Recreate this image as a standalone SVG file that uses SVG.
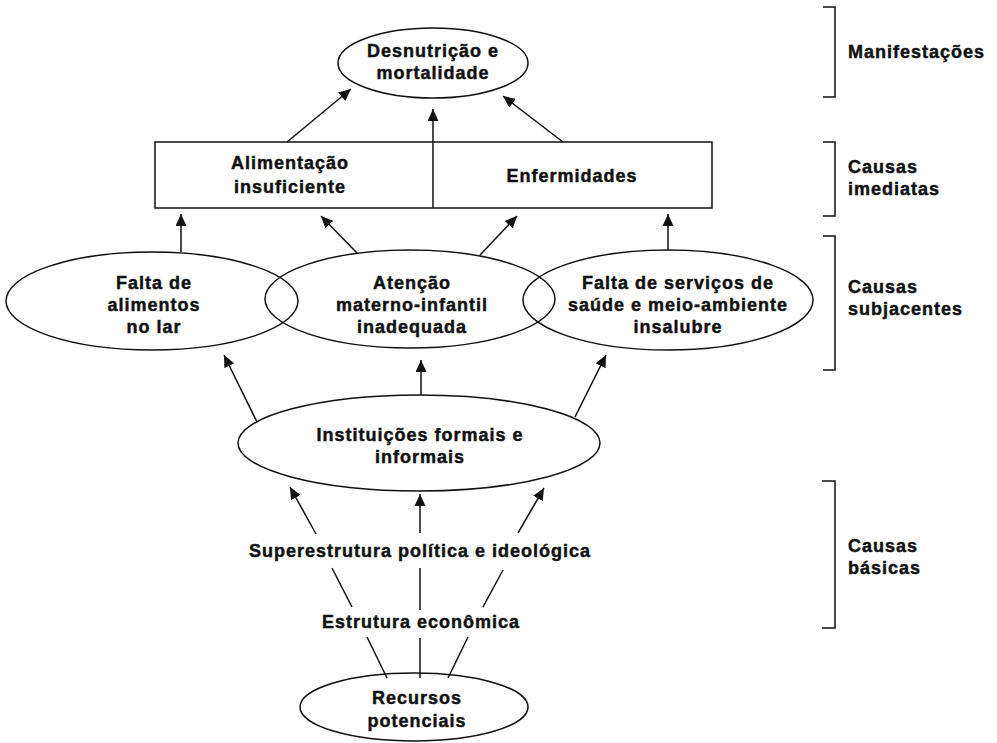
<svg xmlns="http://www.w3.org/2000/svg" width="997" height="743" viewBox="0 0 997 743">
<style>
text{font-family:"Liberation Sans",Arial,sans-serif;font-weight:bold;font-size:18px;letter-spacing:1px;fill:#111;stroke:#111;stroke-width:0.45;text-anchor:middle}
.l{text-anchor:start}
.s{fill:none;stroke:#111;stroke-width:1.5}
.c line{stroke:#111;stroke-width:1.5}
.a{marker-end:url(#ah)}
</style>
<defs>
<marker id="ah" markerUnits="userSpaceOnUse" markerWidth="13" markerHeight="11" refX="12" refY="5.5" orient="auto">
<path d="M0,0 L12,5.5 L0,11 z" fill="#111"/>
</marker>
</defs>
<rect width="997" height="743" fill="#fff"/>

<g class="c" id="connectors">
<line class="a" x1="287" y1="142" x2="351" y2="89"/>
<line class="a" x1="433" y1="208" x2="433" y2="109"/>
<line class="a" x1="563" y1="142" x2="503" y2="96"/>
<line class="a" x1="181" y1="252" x2="181" y2="214"/>
<line class="a" x1="357" y1="253" x2="321" y2="216"/>
<line class="a" x1="480" y1="255" x2="517" y2="216"/>
<line class="a" x1="668" y1="250" x2="668" y2="214"/>
<line class="a" x1="257" y1="422" x2="224" y2="355"/>
<line class="a" x1="421" y1="395" x2="421" y2="360"/>
<line class="a" x1="575" y1="417" x2="606" y2="355"/>
<line class="a" x1="316" y1="534" x2="290" y2="487"/>
<line class="a" x1="420" y1="533" x2="420" y2="494"/>
<line class="a" x1="518" y1="533" x2="544" y2="488"/>
<line x1="352" y1="607" x2="332" y2="568"/>
<line x1="420" y1="610" x2="420" y2="568"/>
<line x1="483" y1="607" x2="503" y2="570"/>
<line x1="387" y1="678" x2="367" y2="637"/>
<line x1="420" y1="678" x2="420" y2="638"/>
<line x1="448" y1="678" x2="468" y2="637"/>
</g>

<g id="desnutricao">
<ellipse class="s" cx="433" cy="63" rx="95" ry="35"/>
<text x="433" y="57">Desnutrição e</text>
<text x="433" y="79">mortalidade</text>
</g>

<g id="causas-imediatas-box">
<rect class="s" x="155" y="142" width="557" height="66"/>
<text x="290" y="169">Alimentação</text>
<text x="290" y="193">insuficiente</text>
<text x="572" y="182">Enfermidades</text>
</g>

<g id="falta-alimentos">
<ellipse class="s" cx="152" cy="301" rx="146" ry="49"/>
<text x="154" y="289">Falta de</text>
<text x="154" y="311">alimentos</text>
<text x="154" y="333">no lar</text>
</g>

<g id="atencao">
<ellipse class="s" cx="410" cy="299" rx="145" ry="49"/>
<text x="412" y="289">Atenção</text>
<text x="412" y="311">materno-infantil</text>
<text x="412" y="333">inadequada</text>
</g>

<g id="falta-servicos">
<ellipse class="s" cx="668" cy="300" rx="145" ry="50"/>
<text x="678" y="289">Falta de serviços de</text>
<text x="678" y="311">saúde e meio-ambiente</text>
<text x="678" y="333">insalubre</text>
</g>

<g id="instituicoes">
<ellipse class="s" cx="419" cy="443" rx="181" ry="48"/>
<text x="420" y="441">Instituições formais e</text>
<text x="420" y="463">informais</text>
</g>

<g id="superestrutura">
<text x="420" y="557">Superestrutura política e ideológica</text>
</g>

<g id="estrutura">
<text x="421" y="628">Estrutura econômica</text>
</g>

<g id="recursos">
<ellipse class="s" cx="414" cy="707" rx="114" ry="34"/>
<text x="417" y="704">Recursos</text>
<text x="417" y="727">potenciais</text>
</g>

<g id="legend">
<path class="s" d="M823,7 H835 V97 H823"/>
<text class="l" x="848" y="58">Manifestações</text>
<path class="s" d="M823,142 H835 V216 H823"/>
<text class="l" x="848" y="173">Causas</text>
<text class="l" x="848" y="195">imediatas</text>
<path class="s" d="M823,236 H835 V370 H823"/>
<text class="l" x="848" y="293">Causas</text>
<text class="l" x="848" y="315">subjacentes</text>
<path class="s" d="M822,481 H835 V628 H822"/>
<text class="l" x="848" y="552">Causas</text>
<text class="l" x="848" y="574">básicas</text>
</g>
</svg>
